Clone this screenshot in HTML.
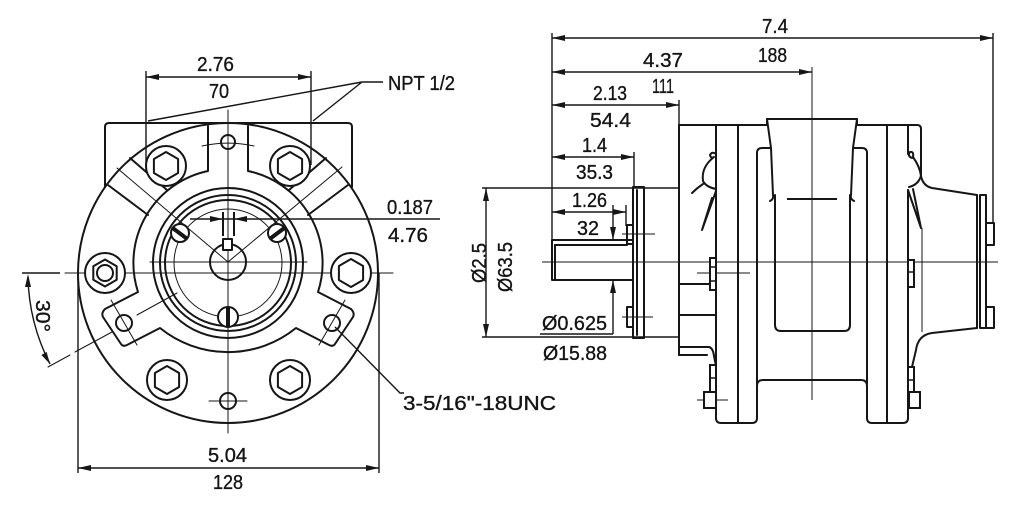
<!DOCTYPE html>
<html><head><meta charset="utf-8">
<style>
html,body{margin:0;padding:0;background:#fff;width:1024px;height:506px;overflow:hidden;}
svg{display:block;}
text{font-family:"Liberation Sans","DejaVu Sans",sans-serif;fill:#141414;stroke:#141414;stroke-width:0.35;font-size:20px;}
</style></head><body>
<svg width="1024" height="506" viewBox="0 0 1024 506" xmlns="http://www.w3.org/2000/svg">
<rect width="1024" height="506" fill="#fff"/>

<!-- ================= FRONT VIEW ================= -->
<g fill="none" stroke="#161616" stroke-width="2" stroke-linecap="round" stroke-linejoin="round">
  <circle cx="228" cy="273" r="150"/>
  <path d="M105,187 V127 Q105,123 109,123 H348 Q352,123 352,127 V187"/>
  <!-- bands -->
  <line x1="108" y1="185" x2="148" y2="215"/>
  <line x1="130" y1="158" x2="167" y2="190"/>
  <line x1="348" y1="185" x2="308" y2="215"/>
  <line x1="326" y1="158" x2="289" y2="190"/>
  <!-- plate outline -->
  <path d="M208,126 V171 A94,94 0 0 0 138,292 L105,309 Q101,313 103,317 L121,344 Q123,347 127,345 L160,328 A108,108 0 0 0 296,328 L329,345 Q333,347 335,344 L353,317 Q355,313 351,309 L318,292 A94,94 0 0 0 248,171 V126"/>
  <!-- hub circles -->
  <circle cx="228" cy="263" r="75"/>
  <circle cx="228" cy="263" r="68"/>
  <circle cx="228" cy="263" r="63"/>
  <circle cx="228" cy="262" r="18"/>
</g>
<g fill="none" stroke="#161616" stroke-width="1" stroke-linecap="round">
  <circle cx="228" cy="263" r="54"/>
  <line x1="228" y1="110" x2="228" y2="433"/>
  <line x1="65" y1="273" x2="393" y2="273"/>
  <line x1="150" y1="262" x2="307" y2="262"/>
  <line x1="117" y1="168" x2="228" y2="262"/>
  <line x1="342" y1="167" x2="228" y2="262"/>
  <line x1="48" y1="367" x2="70" y2="355"/>
  <line x1="75" y1="352" x2="112" y2="332"/>
  <line x1="137" y1="315" x2="177" y2="293"/>
  <line x1="111" y1="300" x2="137" y2="345"/>
  <line x1="345" y1="300" x2="319" y2="345"/>
  <path d="M202,146 A121,121 0 0 1 254,146"/>
  <line x1="209" y1="401" x2="247" y2="401"/>
</g>
<!-- bolts -->
<g fill="#fff" stroke="#161616" stroke-width="2" stroke-linejoin="round">
  <circle cx="166" cy="166" r="20"/>
  <polygon points="166,152 178.1,159 178.1,173 166,180 153.9,173 153.9,159"/>
  <circle cx="290" cy="166" r="20"/>
  <polygon points="290,152 302.1,159 302.1,173 290,180 277.9,173 277.9,159"/>
  <circle cx="105" cy="273" r="20"/>
  <polygon points="105,259.5 116.7,266.3 116.7,279.7 105,286.5 93.3,279.7 93.3,266.3"/>
  <circle cx="105" cy="273" r="8"/>
  <circle cx="351" cy="273" r="20"/>
  <polygon points="351,259 363.1,266 363.1,280 351,287 338.9,280 338.9,266"/>
  <circle cx="167" cy="380" r="20"/>
  <polygon points="167,366 179.1,373 179.1,387 167,394 154.9,387 154.9,373"/>
  <circle cx="290" cy="380" r="20"/>
  <polygon points="290,366 302.1,373 302.1,387 290,394 277.9,387 277.9,373"/>
  <!-- holes -->
  <circle cx="228" cy="142" r="7" fill="none"/>
  <circle cx="124" cy="323" r="8" fill="none"/>
  <circle cx="332" cy="323" r="8" fill="none"/>
  <circle cx="228" cy="401" r="8" fill="none"/>
  <!-- screws -->
  <circle cx="180" cy="233" r="9"/>
  <circle cx="277" cy="233" r="9"/>
  <circle cx="228" cy="317" r="10"/>
  <rect x="223" y="239" width="9" height="11"/>
</g>
<g stroke="#161616" stroke-width="4" stroke-linecap="round">
  <line x1="174" y1="229" x2="186" y2="238"/>
  <line x1="271" y1="238" x2="283" y2="229"/>
  <line x1="228" y1="308" x2="228" y2="326"/>
</g>

<!-- front view dimensions -->
<g fill="none" stroke="#161616" stroke-width="1.4">
  <line x1="146" y1="71" x2="146" y2="172"/>
  <line x1="311" y1="71" x2="311" y2="165"/>
  <line x1="146" y1="77" x2="311" y2="77"/>
  <line x1="78" y1="273" x2="78" y2="473"/>
  <line x1="379" y1="273" x2="379" y2="473"/>
  <line x1="78" y1="468" x2="379" y2="468"/>
  <line x1="190" y1="219" x2="440" y2="219"/>
  <line x1="22" y1="273" x2="60" y2="273"/>
  <path d="M28,277 A200,200 0 0 0 50,364"/>
  <polyline points="148,121 362,82 313,121"/>
  <line x1="362" y1="82" x2="383" y2="82"/>
  <polyline points="335,327 400,393 404,393"/>
</g>
<g stroke="#161616" stroke-width="2">
  <line x1="223" y1="212" x2="223" y2="236"/>
  <line x1="234" y1="212" x2="234" y2="236"/>
</g>
<g fill="#161616" stroke="none">
  <polygon points="146,77 159,74 159,80"/>
  <polygon points="311,77 298,74 298,80"/>
  <polygon points="78,468 91,465 91,471"/>
  <polygon points="379,468 366,465 366,471"/>
  <polygon points="223,219 210,216 210,222"/>
  <polygon points="234,219 247,216 247,222"/>
  <polygon points="28,274 25,287 31,287"/>
  <polygon points="50,364 46.6,352 41.4,355"/>
</g>
<text x="197" y="71" textLength="37" lengthAdjust="spacingAndGlyphs">2.76</text>
<text x="209" y="98" textLength="20" lengthAdjust="spacingAndGlyphs">70</text>
<text x="388" y="90" font-size="17" textLength="67" lengthAdjust="spacingAndGlyphs">NPT 1/2</text>
<text x="387" y="214" textLength="46" lengthAdjust="spacingAndGlyphs">0.187</text>
<text x="388" y="242" textLength="40" lengthAdjust="spacingAndGlyphs">4.76</text>
<text x="208" y="462" textLength="39" lengthAdjust="spacingAndGlyphs">5.04</text>
<text x="213" y="489" textLength="30" lengthAdjust="spacingAndGlyphs">128</text>
<text x="403" y="410" textLength="153" lengthAdjust="spacingAndGlyphs">3-5/16"-18UNC</text>
<text transform="translate(36,316) rotate(90)" text-anchor="middle" textLength="32" lengthAdjust="spacingAndGlyphs">30°</text>

<!-- ================= SIDE VIEW ================= -->
<g fill="none" stroke="#161616" stroke-width="1.4">
  <line x1="552" y1="33" x2="552" y2="240"/>
  <line x1="552" y1="38" x2="993" y2="38"/>
  <line x1="993" y1="33" x2="993" y2="222"/>
  <line x1="552" y1="72" x2="812" y2="72"/>
  <line x1="552" y1="105" x2="679" y2="105"/>
  <line x1="679" y1="100" x2="679" y2="125"/>
  <line x1="552" y1="157" x2="634" y2="157"/>
  <line x1="634" y1="152" x2="634" y2="187"/>
  <line x1="552" y1="212" x2="626" y2="212"/>
  <line x1="626" y1="205" x2="626" y2="226"/>
  <line x1="486" y1="188" x2="486" y2="337"/>
  <line x1="482" y1="188" x2="679" y2="188"/>
  <line x1="482" y1="337" x2="679" y2="337"/>
  <line x1="613" y1="205" x2="613" y2="240"/>
  <line x1="613" y1="280" x2="613" y2="334"/>
  <line x1="540" y1="334" x2="613" y2="334"/>
</g>
<g fill="#161616" stroke="none">
  <polygon points="552,38 565,35 565,41"/>
  <polygon points="993,38 980,35 980,41"/>
  <polygon points="552,72 565,69 565,75"/>
  <polygon points="812,72 799,69 799,75"/>
  <polygon points="552,105 565,102 565,108"/>
  <polygon points="679,105 666,102 666,108"/>
  <polygon points="552,157 565,154 565,160"/>
  <polygon points="634,157 621,154 621,160"/>
  <polygon points="552,212 565,209 565,215"/>
  <polygon points="626,212 613,209 613,215"/>
  <polygon points="486,188 483,201 489,201"/>
  <polygon points="486,337 483,324 489,324"/>
  <polygon points="613,240 610,227 616,227"/>
  <polygon points="613,280 610,293 616,293"/>
</g>
<g fill="none" stroke="#161616" stroke-width="1">
  <line x1="542" y1="262" x2="998" y2="262"/>
  <line x1="812" y1="67" x2="812" y2="400"/>
  <line x1="622" y1="234" x2="655" y2="234"/>
  <line x1="622" y1="317" x2="653" y2="317"/>
  <line x1="697" y1="273" x2="750" y2="273"/>
  <line x1="697" y1="400" x2="728" y2="400"/>
  <line x1="922" y1="228" x2="922" y2="332"/>
</g>
<g fill="none" stroke="#161616" stroke-width="2" stroke-linecap="round" stroke-linejoin="round">
  <!-- shaft -->
  <rect x="552" y="240" width="81" height="40"/>
  <line x1="555" y1="245" x2="627" y2="245"/>
  <line x1="555" y1="245" x2="555" y2="280"/>
  <rect x="627" y="225" width="6" height="19"/>
  <rect x="627" y="307" width="6" height="20"/>
  <!-- plate -->
  <rect x="633" y="187" width="11" height="151"/>
  <line x1="637" y1="190" x2="637" y2="335"/>
  <!-- left body -->
  <line x1="679" y1="125" x2="679" y2="355"/>
  <line x1="679" y1="125" x2="767" y2="125"/>
  <line x1="679" y1="284" x2="716" y2="284"/>
  <line x1="679" y1="315" x2="716" y2="315"/>
  <path d="M679,355 H707"/>
  <path d="M679,347 H709 Q713,348 714,356 L716,366"/>
  <!-- flange 1 -->
  <path d="M716,125 V418 Q716,423 721,423 H752 Q757,423 757,418 V153 Q757,148 762,148 H771"/>
  <line x1="738" y1="125" x2="738" y2="423"/>
  <!-- center -->
  <path d="M767,125 V119 H857 V125"/>
  <path d="M767,119 L771,148 L773,195 Q774,199 770,201"/>
  <path d="M857,119 L853,148 L851,195 Q850,199 854,201"/>
  <path d="M775,195 V325 Q775,331 781,331 H844 Q850,331 850,325 V195"/>
  <path d="M757,386 Q757,380 763,380 H861 Q867,380 867,386"/>
  <!-- flange 2 -->
  <path d="M853,148 H862 Q867,148 867,153 V418 Q867,423 872,423 H903 Q908,423 908,418 V190"/>
  <line x1="908" y1="125" x2="908" y2="154"/>
  <line x1="887" y1="125" x2="887" y2="423"/>
  <path d="M857,125 H917 Q921,125 921,129 V176"/>
  <!-- right squiggle -->
  <path d="M912,158 Q907,156 910,152 Q914,151 913,157 Q920,167 921,176 Q918,185 909,187"/>
  <path d="M908,190 L921,228 L913,189"/>
  <!-- left squiggle -->
  <path d="M716,154 Q712,151 710,155 Q711,159 714,157 Q701,167 703,181 Q706,187 716,189"/>
  <path d="M692,193 Q697,188 703,184"/>
  <path d="M716,191 L702,230 L712,198"/>
  <!-- tail -->
  <path d="M921,176 Q923,186 932,188 L977,195"/>
  <path d="M977,328 L932,333 Q918,335 916,350 L912,367"/>
  <line x1="977" y1="195" x2="977" y2="328"/>
  <rect x="980" y="195" width="6" height="133"/>
  <rect x="986" y="223" width="8" height="22"/>
  <rect x="986" y="307" width="8" height="21"/>
</g>
<!-- flange bolts -->
<g fill="#fff" stroke="#161616" stroke-width="2">
  <rect x="710" y="258" width="6" height="32"/>
  <rect x="710" y="365" width="6" height="27"/>
  <rect x="704" y="392" width="12" height="16"/>
  <rect x="908" y="260" width="6" height="27"/>
  <rect x="908" y="367" width="6" height="26"/>
  <rect x="909" y="392" width="11" height="16"/>
</g>
<g stroke="#161616" stroke-width="1.5">
  <line x1="710" y1="267" x2="716" y2="267"/>
  <line x1="710" y1="281" x2="716" y2="281"/>
  <line x1="710" y1="378" x2="716" y2="378"/>
  <line x1="908" y1="272" x2="914" y2="272"/>
  <line x1="908" y1="380" x2="914" y2="380"/>
</g>
<line x1="787" y1="199" x2="837" y2="199" stroke="#161616" stroke-width="2"/>

<!-- side view text -->
<text x="762" y="33" textLength="26" lengthAdjust="spacingAndGlyphs">7.4</text>
<text x="758" y="62" textLength="29" lengthAdjust="spacingAndGlyphs">188</text>
<text x="643" y="67" textLength="40" lengthAdjust="spacingAndGlyphs">4.37</text>
<text x="652" y="93" textLength="22" lengthAdjust="spacingAndGlyphs">111</text>
<text x="593" y="100" textLength="34" lengthAdjust="spacingAndGlyphs">2.13</text>
<text x="590" y="127" textLength="41" lengthAdjust="spacingAndGlyphs">54.4</text>
<text x="582" y="152" textLength="25" lengthAdjust="spacingAndGlyphs">1.4</text>
<text x="576" y="179" textLength="37" lengthAdjust="spacingAndGlyphs">35.3</text>
<text x="572" y="207" textLength="35" lengthAdjust="spacingAndGlyphs">1.26</text>
<text x="577" y="235" textLength="22" lengthAdjust="spacingAndGlyphs">32</text>
<text transform="translate(486,263) rotate(-90)" text-anchor="middle" textLength="40" lengthAdjust="spacingAndGlyphs">Ø2.5</text>
<text transform="translate(512,267) rotate(-90)" text-anchor="middle" textLength="50" lengthAdjust="spacingAndGlyphs">Ø63.5</text>
<text x="542" y="330" textLength="65" lengthAdjust="spacingAndGlyphs">Ø0.625</text>
<text x="543" y="360" textLength="64" lengthAdjust="spacingAndGlyphs">Ø15.88</text>
</svg>
</body></html>
